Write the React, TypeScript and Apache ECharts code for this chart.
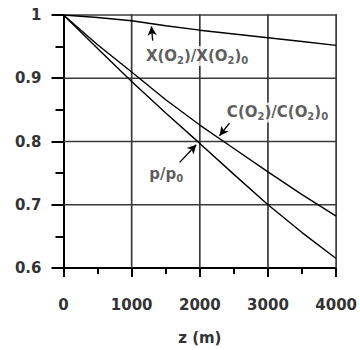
import React, { useEffect, useRef } from "react";
import * as echarts from "echarts";

const zValues = [0, 500, 1000, 1500, 2000, 2500, 3000, 3500, 4000];
const xRatio = [1, 0.996, 0.991, 0.983, 0.976, 0.97, 0.964, 0.958, 0.952];
const cRatio = [1, 0.953, 0.91, 0.866, 0.826, 0.789, 0.752, 0.716, 0.682];
const pRatio = [1, 0.947, 0.895, 0.845, 0.797, 0.748, 0.7, 0.656, 0.615];

const xTicks = [0, 1000, 2000, 3000, 4000];
const yTicks = [0.6, 0.7, 0.8, 0.9, 1];

// annotation labels: [z, value, rich text]
const labelPositions: [number, number, string][] = [
  [1960, 0.935, "{n|X(O}{s|2}{n|)/X(O}{s|2}{n|)}{s|0}"],
  [3140, 0.846, "{n|C(O}{s|2}{n|)/C(O}{s|2}{n|)}{s|0}"],
  [1506, 0.748, "{n|p/p}{s|0}"],
];
// arrows: [zFrom, vFrom, zTo, vTo]
const arrows: [number, number, number, number][] = [
  [1309, 0.9595, 1290, 0.982],
  [2435, 0.829, 2289, 0.809],
  [1704, 0.767, 1948, 0.795],
];

const FONT = "DejaVu Sans";
const TXT = "#333";
const GRID = "#3a3a3a";

export default function App() {
  const ref = useRef<HTMLDivElement>(null);
  useEffect(() => {
    const chart = echarts.init(ref.current!, null, { renderer: "svg" });
    const xMin = xTicks[0];
    const xMax = xTicks[xTicks.length - 1];
    const yMin = yTicks[0];
    const yMax = yTicks[yTicks.length - 1];
    const mk = (vals: number[]) => zValues.map((z, i) => [z, vals[i]]);
    const lineSeries = (name: string, vals: number[], extra: any = {}) => ({
      name,
      type: "line",
      data: mk(vals),
      showSymbol: false,
      lineStyle: { color: "#000", width: 1.4 },
      z: 3,
      ...extra,
    });
    // gridline items: [orientation (0 = vertical, 1 = horizontal), value]
    const gridItems = [
      ...xTicks.slice(1).map((v) => [0, v]),
      ...yTicks.slice(1).map((v) => [1, v]),
    ];
    chart.setOption({
      animation: false,
      grid: { left: 63.5, right: 23, top: 15, bottom: 78 },
      xAxis: {
        type: "value",
        min: xMin,
        max: xMax,
        interval: 1000,
        name: "z (m)",
        nameLocation: "middle",
        nameGap: 62,
        nameTextStyle: { fontFamily: FONT, fontSize: 15, fontWeight: "bold", color: TXT },
        axisLine: { show: true, lineStyle: { color: "#000", width: 2 } },
        axisTick: { show: true, inside: false, length: 9, lineStyle: { color: "#000", width: 2 } },
        minorTick: { show: true, splitNumber: 2, length: 6, lineStyle: { color: "#000", width: 2 } },
        axisLabel: {
          fontFamily: FONT,
          fontSize: 15,
          fontWeight: "bold",
          color: TXT,
          margin: 29,
          formatter: (v: number) => String(v),
        },
        splitLine: { show: false },
      },
      yAxis: {
        type: "value",
        min: yMin,
        max: yMax,
        interval: 0.1,
        axisLine: { show: true, lineStyle: { color: "#000", width: 2 } },
        axisTick: { show: true, inside: false, length: 12, lineStyle: { color: "#000", width: 2 } },
        minorTick: { show: true, splitNumber: 2, length: 8, lineStyle: { color: "#000", width: 2 } },
        axisLabel: {
          fontFamily: FONT,
          fontSize: 15,
          fontWeight: "bold",
          color: TXT,
          margin: 22,
          formatter: (v: number) => (Math.abs(v - 1) < 1e-9 ? "1" : String(Math.round(v * 10) / 10)),
        },
        splitLine: { show: false },
      },
      series: [
        {
          type: "custom",
          silent: true,
          z: 2,
          clip: false,
          data: gridItems,
          encode: { x: -1, y: -1 },
          renderItem: (params: any, api: any) => {
            const orient = api.value(0);
            const v = api.value(1);
            const w = 1.7;
            if (orient === 0) {
              const top = api.coord([v, yMax]);
              const bot = api.coord([v, yMin]);
              return {
                type: "rect",
                shape: { x: top[0] - w / 2, y: top[1] - w / 2, width: w, height: bot[1] - top[1] + w / 2 },
                style: { fill: GRID },
              };
            }
            const l = api.coord([xMin, v]);
            const r = api.coord([xMax, v]);
            return {
              type: "rect",
              shape: { x: l[0], y: l[1] - w / 2, width: r[0] - l[0] + w / 2, height: w },
              style: { fill: GRID },
            };
          },
        },
        lineSeries("X", xRatio, {
          markLine: {
            silent: true,
            symbol: ["none", "arrow"],
            symbolSize: [7, 9],
            label: { show: false },
            lineStyle: { color: "#000", width: 1.4, type: "solid" },
            data: arrows.map((a) => [{ coord: [a[0], a[1]] }, { coord: [a[2], a[3]] }]),
          },
        }),
        lineSeries("C", cRatio),
        lineSeries("p", pRatio),
        {
          type: "scatter",
          symbolSize: 0,
          silent: true,
          z: 4,
          data: labelPositions.map((l) => ({
            value: [l[0], l[1]],
            label: {
              show: true,
              position: "inside",
              formatter: l[2],
              backgroundColor: "#fff",
              padding: [1, 1],
              rich: {
                n: { fontFamily: FONT, fontSize: 15, fontWeight: "bold", color: TXT, lineHeight: 18 },
                s: {
                  fontFamily: FONT,
                  fontSize: 10,
                  fontWeight: "bold",
                  color: TXT,
                  lineHeight: 18,
                  padding: [9, 0, 0, 0],
                },
              },
            },
          })),
        },
      ],
    });
    return () => chart.dispose();
  }, []);
  return (
    <div
      ref={ref}
      style={{ position: "absolute", left: 0, top: 0, width: 360, height: 350, background: "#fff" }}
    />
  );
}
